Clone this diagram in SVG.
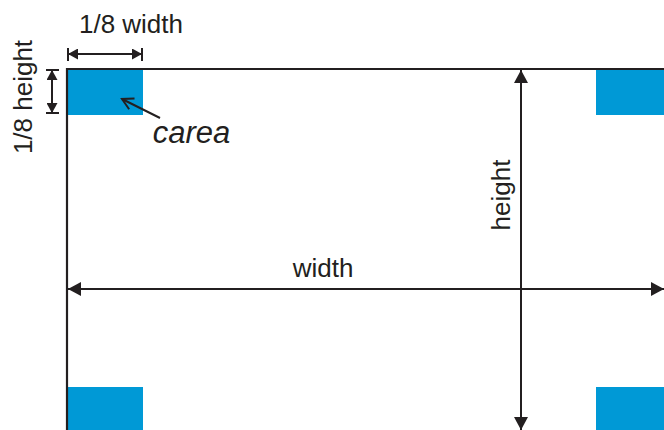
<svg xmlns="http://www.w3.org/2000/svg" width="664" height="430" viewBox="0 0 664 430">
<style>
.area{fill:#0099d6}
.ln{stroke:#231f20;stroke-width:2.2;fill:none}
.thin{stroke-width:2}
.dim{stroke:#231f20;stroke-width:2;fill:none;marker-start:url(#ah);marker-end:url(#ah)}
.sdim{stroke:#231f20;stroke-width:2;fill:none;marker-start:url(#sh);marker-end:url(#sh)}
.t{font-family:"Liberation Sans",Arial,sans-serif;font-size:26px;fill:#231f20}
.it{font-style:italic;font-size:31px}
</style>
<defs>
<marker id="ah" markerUnits="userSpaceOnUse" markerWidth="13" markerHeight="14" viewBox="0 0 13 14" refX="13" refY="7" orient="auto-start-reverse"><path d="M0,0 L13,7 L0,14 z" fill="#231f20"/></marker>
<marker id="sh" markerUnits="userSpaceOnUse" markerWidth="10" markerHeight="11" viewBox="0 0 10 11" refX="10" refY="5.5" orient="auto-start-reverse"><path d="M0,0 L10,5.5 L0,11 z" fill="#231f20"/></marker>
<marker id="oh" markerUnits="userSpaceOnUse" markerWidth="14" markerHeight="14" viewBox="-1 -1 14 14" refX="11" refY="6" orient="auto"><path d="M0,0 L11,6 L0,12" fill="none" stroke="#231f20" stroke-width="2"/></marker>
</defs>
<g id="corners">
<rect id="area-tl" class="area" x="67" y="69" width="76" height="46"/>
<rect id="area-tr" class="area" x="596" y="69" width="68" height="46"/>
<rect id="area-bl" class="area" x="67" y="387" width="76" height="43"/>
<rect id="area-br" class="area" x="596" y="387" width="68" height="43"/>
</g>
<g id="frame">
<line class="ln" x1="66" y1="69" x2="664" y2="69"/>
<line class="ln" x1="67" y1="68" x2="67" y2="430"/>
</g>
<g id="connectors">
<line class="dim" x1="68" y1="289" x2="664" y2="289"/>
<line class="dim" x1="521" y1="70" x2="521" y2="430"/>
<line class="sdim" x1="68" y1="54" x2="142" y2="54"/>
<line class="ln thin" x1="68" y1="48" x2="68" y2="61"/>
<line class="ln thin" x1="142" y1="48" x2="142" y2="61"/>
<line class="sdim" x1="52" y1="70" x2="52" y2="113"/>
<line class="ln thin" x1="46" y1="70" x2="59" y2="70"/>
<line class="ln thin" x1="46" y1="113" x2="59" y2="113"/>
<line class="ln thin" x1="160" y1="118" x2="122" y2="99" marker-end="url(#oh)"/>
</g>
<g id="labels">
<text class="t" x="131" y="33" text-anchor="middle">1/8 width</text>
<text class="t" transform="translate(31.5,97) rotate(-90)" text-anchor="middle">1/8 height</text>
<text class="t it" x="191.5" y="143" text-anchor="middle">carea</text>
<text class="t" x="323" y="277" text-anchor="middle">width</text>
<text class="t" transform="translate(509.5,195) rotate(-90)" text-anchor="middle">height</text>
</g>
</svg>
